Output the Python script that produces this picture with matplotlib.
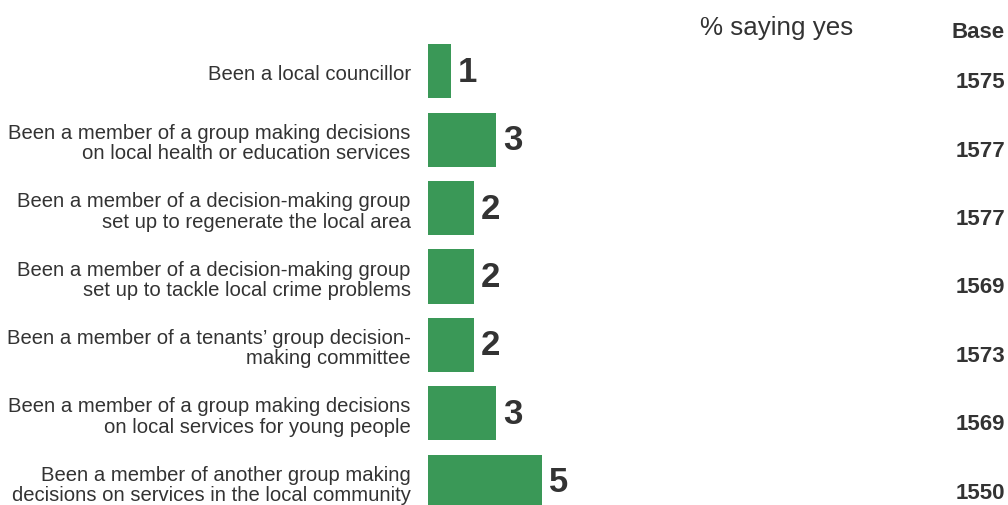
import matplotlib
matplotlib.use("Agg")
from matplotlib import pyplot as plt
from matplotlib import transforms

plt.rcParams['font.family'] = ['Liberation Sans', 'DejaVu Sans']

categories = [
    "Been a local councillor",
    "Been a member of a group making decisions\non local health or education services",
    "Been a member of a decision-making group\nset up to regenerate the local area",
    "Been a member of a decision-making group\nset up to tackle local crime problems",
    "Been a member of a tenants\u2019 group decision-\nmaking committee",
    "Been a member of a group making decisions\non local services for young people",
    "Been a member of another group making\ndecisions on services in the local community",
]
pct_yes = [1, 3, 2, 2, 2, 3, 5]
base = [1575, 1577, 1577, 1569, 1573, 1569, 1550]

GREEN = "#3a9857"
TEXT = "#333333"

W, H = 1008, 506
fig = plt.figure(figsize=(W / 100, H / 100), dpi=100)
ax = fig.add_axes([428 / W, (H - 517) / H, (W - 428) / W, 479 / H])

ypos = list(range(len(categories)))
ax.barh(ypos, pct_yes, height=0.79, color=GREEN)
ax.set_xlim(0, 580 / 22.8)
ax.set_ylim(len(categories) - 0.5, -0.5)

ax.set_yticks(ypos)
ax.set_yticklabels(categories, fontsize=14.6, color=TEXT, linespacing=1.1)
ax.tick_params(axis='y', length=0, pad=12.5)
ax.set_xticks([])
for s in ax.spines.values():
    s.set_visible(False)

# value labels next to the bars
for y, v in zip(ypos, pct_yes):
    ax.annotate(str(v), (v, y), xytext=(5, 0), textcoords='offset points',
                ha='left', va='center', fontsize=25, fontweight='bold', color=TEXT)

# base column on the right
trans = transforms.blended_transform_factory(fig.transFigure, ax.transData)
for y, b in zip(ypos, base):
    ax.annotate(str(b), (1005 / W, y), xycoords=trans, xytext=(0, -7.5),
                textcoords='offset points', ha='right', va='center',
                fontsize=16, fontweight='bold', color=TEXT)

fig.text(777 / W, 1 - 28 / H, "% saying yes", ha='center', va='center',
         fontsize=18.7, color=TEXT)
fig.text(1005 / W, 1 - 32 / H, "Base", ha='right', va='center',
         fontsize=16, fontweight='bold', color=TEXT)

fig.savefig("out.png", dpi=100)
